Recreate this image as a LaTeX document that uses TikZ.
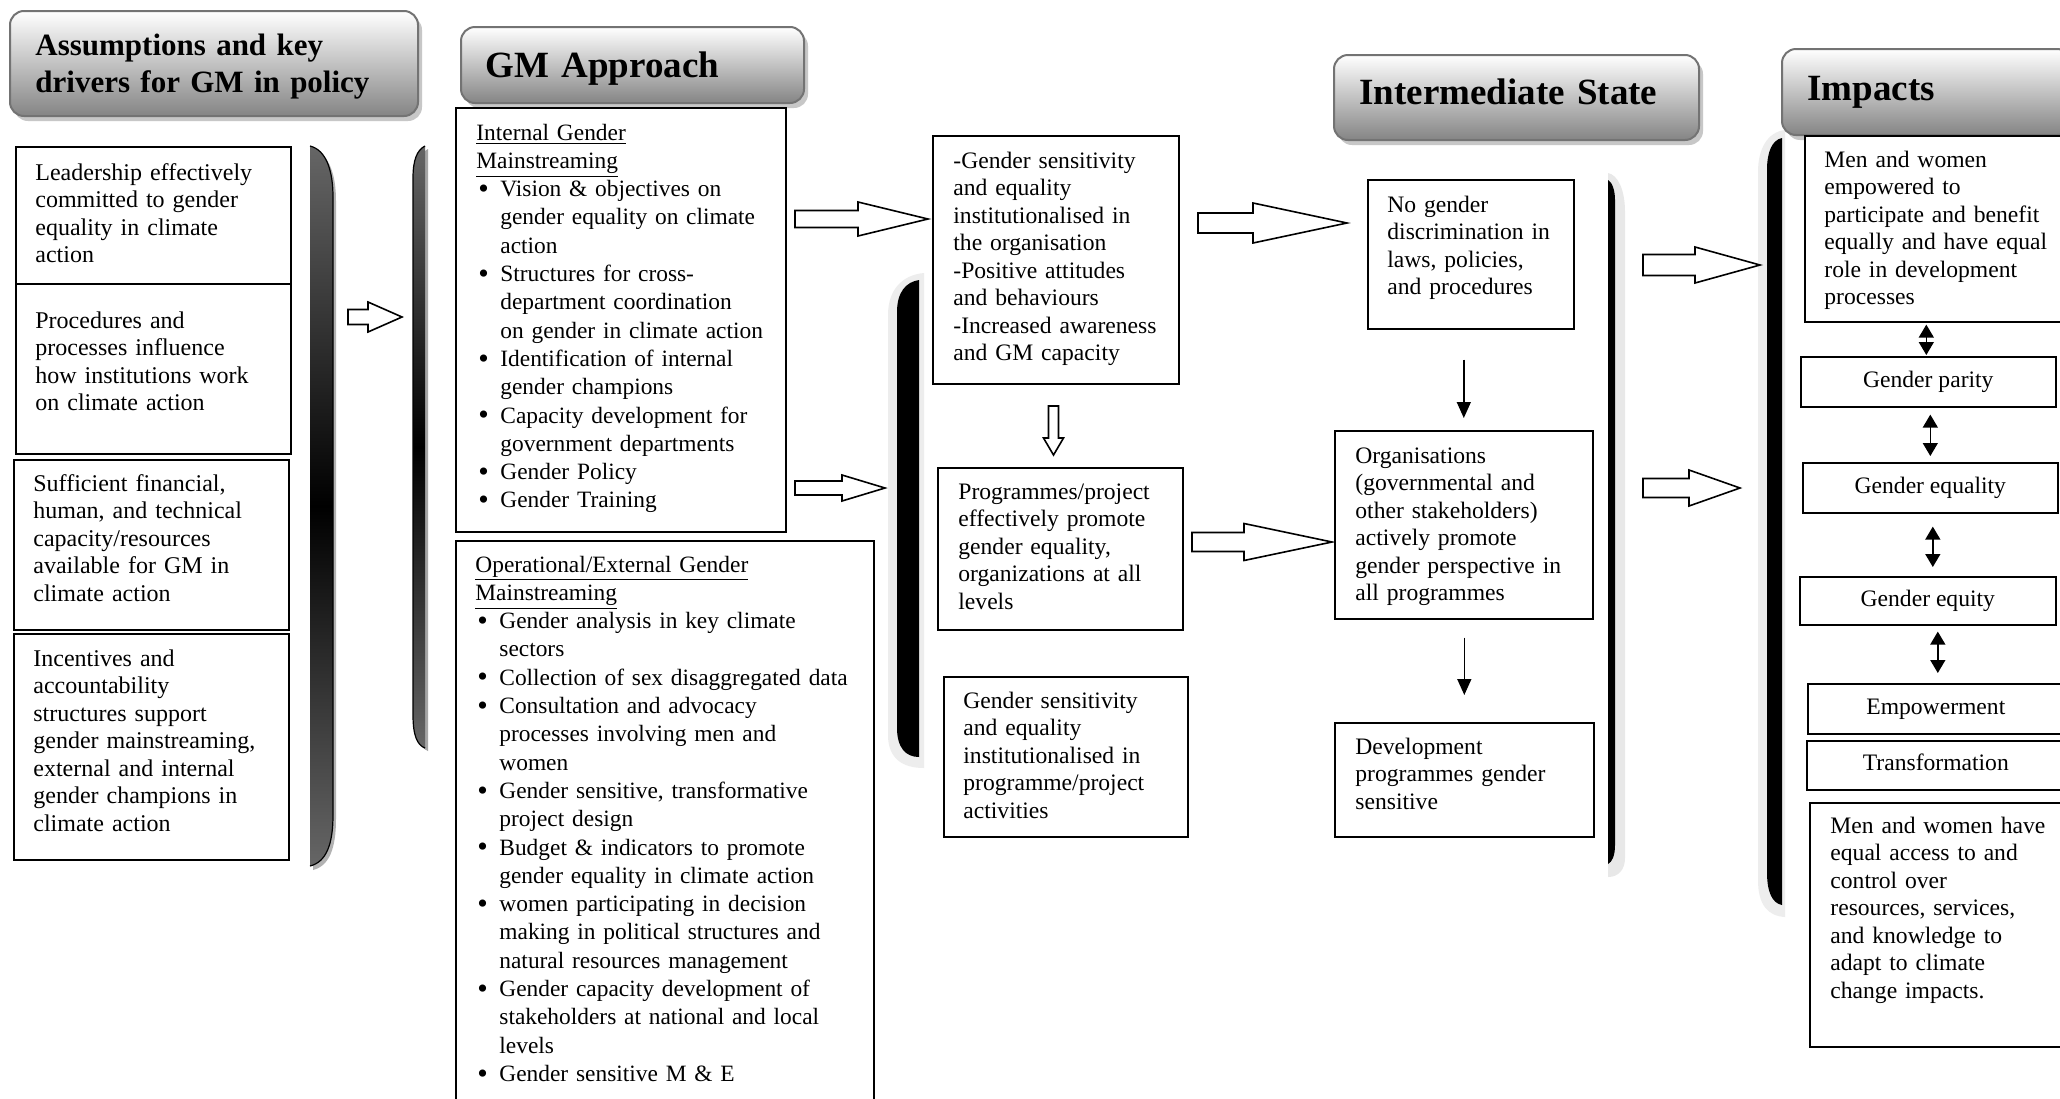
\documentclass[tikz,border=0pt]{standalone}
\usepackage{fontspec}
\setmainfont{Liberation Serif}
\usetikzlibrary{arrows.meta,shadows}
\newcommand\blt{\makebox[12pt][l]{\hspace{1pt}\raisebox{-0.8pt}{\fontsize{15}{15}\selectfont\textbullet}}}
\newcommand\hind{\hspace*{12pt}}
\newcommand\rblk[6]{\draw[blk] (#1,{#4-#5}) -- (#2,{#4-#5}) -- (#2,{#4-#6}) -- (#3,#4) -- (#2,{#4+#6}) -- (#2,{#4+#5}) -- (#1,{#4+#5}) -- cycle;}
\newcommand\bx[6]{\node[box,minimum width={(#4-#2)*0.5pt},minimum height={(#5-#3)*0.5pt}] (#1) at (#2,#3) {#6};}
\newcommand\hd[5]{\node[hdr,minimum width={(#4-#2)*0.5pt},minimum height={(#5-#3)*0.5pt}] (#1) at (#2,#3) {};}
\tikzset{
  x=0.5pt, y=-0.5pt,
  box/.style={draw=black, line width=0.8pt, fill=white, rectangle, inner sep=0pt, anchor=north west,
    font=\fontsize{11.8}{13.75}\selectfont, text height=8pt, text depth=2.6pt},
  hdr/.style={rectangle, rounded corners=7pt, draw=black!55, line width=1pt, top color=white,
    bottom color=black!48, anchor=north west, inner sep=0pt,
    drop shadow={shadow xshift=2pt, shadow yshift=-2.5pt, fill=black!22, opacity=1}},
  tx/.style={anchor=base west, inner sep=0pt, align=left, font=\fontsize{11.8}{13.75}\selectfont, text width=#1},
  lx/.style={anchor=base west, inner sep=0pt, align=left, font=\fontsize{12}{13.75}\selectfont, text width=#1},
  gm/.style={anchor=base west, inner sep=0pt, align=left, font=\fontsize{11.7}{14.15}\selectfont, text width=#1},
  ht/.style={anchor=base west, inner sep=0pt, align=left, font=\bfseries\fontsize{18.5}{21}\selectfont, text width=#1},
  blk/.style={draw=black, line width=0.8pt, fill=white, line join=miter},
  dbl/.style={{Triangle[width=7.5pt,length=6.5pt]}-{Triangle[width=7.5pt,length=6.5pt]}, line width=0.7pt},
  sarr/.style={-{Triangle[width=7pt,length=8pt]}, line width=0.7pt},
}
\begin{document}
\begin{tikzpicture}
\useasboundingbox (0,0) rectangle (2060,1098);
\fill[white] (0,0) rectangle (2060,1098);
\clip (0,0) rectangle (2060,1098);

% ---------- vertical bars ----------
% bar 1
\fill[black!30] (313,150) .. controls (329,154) and (336,174) .. (336,201) -- (336,819) .. controls (336,849) and (329,866) .. (313,870) -- cycle;
\shade[top color=black!60,bottom color=black!60,middle color=black] (310,146) .. controls (326,150) and (333,170) .. (333,197) -- (333,815) .. controls (333,845) and (326,862) .. (310,866) -- cycle;
\draw[line width=0.6pt] (310,146) .. controls (326,150) and (333,170) .. (333,197) -- (333,815) .. controls (333,845) and (326,862) .. (310,866);
% bar 2
\fill[black!35] (428,149) .. controls (420,153) and (416,163) .. (416,181) -- (416,718) .. controls (416,738) and (420,748) .. (428,751) -- cycle;
\shade[top color=black!60,bottom color=black!60,middle color=black] (425,146) .. controls (417,150) and (413,160) .. (413,178) -- (413,715) .. controls (413,735) and (417,745) .. (425,748) -- cycle;
\draw[line width=0.6pt] (425,146) .. controls (417,150) and (413,160) .. (413,178) -- (413,715) .. controls (413,735) and (417,745) .. (425,748);
% bar 3
\fill[black!7] (924,273) .. controls (902,275) and (888,290) .. (888,315) -- (888,735) .. controls (888,758) and (902,768) .. (924,768) -- cycle;
\fill[black] (919,280) .. controls (906,282) and (897,292) .. (897,312) -- (897,728) .. controls (897,748) and (906,757) .. (919,757) -- cycle;
% bar 4
\fill[black!9] (1608,173) .. controls (1618,175) and (1625,190) .. (1625,212) -- (1625,858) .. controls (1625,870) and (1618,877) .. (1608,877) -- cycle;
\fill[black] (1608,180) .. controls (1612,182) and (1615,190) .. (1615,200) -- (1615,845) .. controls (1615,856) and (1612,862) .. (1608,864) -- cycle;
% bar 5
\fill[black!7] (1785,130) .. controls (1768,132) and (1758,148) .. (1758,172) -- (1758,880) .. controls (1758,905) and (1768,916) .. (1785,917) -- cycle;
\fill[black] (1782,138) .. controls (1772,140) and (1767,152) .. (1767,170) -- (1767,872) .. controls (1767,892) and (1772,903) .. (1782,905) -- cycle;

% ---------- headers ----------
\hd{h1}{9}{10}{417}{115}
\hd{h2}{460}{26}{803}{102}
\hd{h3}{1333}{54}{1698}{139}
\hd{h4}{1781}{48}{2070}{134}
\node[anchor=base west, inner sep=0pt, align=left, font=\bfseries\fontsize{15.5}{18.5}\selectfont, text width=190pt] (h1t) at (35,55) {Assumptions and key\\drivers for GM in policy};
\node[ht=160pt] (h2t) at (485,77) {GM Approach};
\node[ht=170pt] (h3t) at (1359,104) {Intermediate State};
\node[ht=120pt] (h4t) at (1807,100) {Impacts};

% ---------- left column ----------
\bx{b1}{15}{146}{290}{283}{}
\bx{b2}{15}{283}{290}{453}{}
\bx{b3}{13}{459}{288}{629}{}
\bx{b4}{13}{633}{288}{859}{}
\node[lx=125pt] (t1) at (35,180) {Leadership effectively\\committed to gender\\equality in climate\\action};
\node[lx=125pt] (t2) at (35,328) {Procedures and\\processes influence\\how institutions work\\on climate action};
\node[lx=125pt] (t3) at (33,491) {Sufficient financial,\\human, and technical\\capacity/resources\\available for GM in\\climate action};
\node[lx=125pt] (t4) at (33,666) {Incentives and\\accountability\\structures support\\gender mainstreaming,\\external and internal\\gender champions in\\climate action};

% ---------- GM approach ----------
\bx{bint}{455}{107}{785}{531}{}
\bx{bop}{455}{540}{873}{1110}{}
\node[gm=152pt] (tint) at (476,140) {\underline{Internal Gender}\\
\underline{Mainstreaming}\\
\blt Vision \& objectives on\\
\hind gender equality on climate\\
\hind action\\
\blt Structures for cross-\\
\hind department coordination\\
\hind on gender in climate action\\
\blt Identification of internal\\
\hind gender champions\\
\blt Capacity development for\\
\hind government departments\\
\blt Gender Policy\\
\blt Gender Training};
\node[gm=196pt] (top) at (475,572) {\underline{Operational/External Gender}\\
\underline{Mainstreaming}\\
\blt Gender analysis in key climate\\
\hind sectors\\
\blt Collection of sex disaggregated data\\
\blt Consultation and advocacy\\
\hind processes involving men and\\
\hind women\\
\blt Gender sensitive, transformative\\
\hind project design\\
\blt Budget \& indicators to promote\\
\hind gender equality in climate action\\
\blt women participating in decision\\
\hind making in political structures and\\
\hind natural resources management\\
\blt Gender capacity development of\\
\hind stakeholders at national and local\\
\hind levels\\
\blt Gender sensitive M \& E};

% ---------- middle column ----------
\bx{bgs}{932}{135}{1178}{383}{}
\bx{bprog}{937}{467}{1182}{629}{}
\bx{bgs2}{943}{676}{1187}{836}{}
\node[tx=110pt] (tgs) at (953,168) {-Gender sensitivity\\and equality\\institutionalised in\\the organisation\\-Positive attitudes\\and behaviours\\-Increased awareness\\and GM capacity};
\node[tx=110pt] (tprog) at (958,499) {Programmes/project\\effectively promote\\gender equality,\\organizations at all\\levels};
\node[tx=110pt] (tgs2) at (963,708) {Gender sensitivity\\and equality\\institutionalised in\\programme/project\\activities};

% ---------- intermediate ----------
\bx{bng}{1367}{179}{1573}{328}{}
\bx{borg}{1334}{430}{1592}{618}{}
\bx{bdev}{1334}{722}{1593}{836}{}
\node[tx=91pt] (tng) at (1387,212) {No gender\\discrimination in\\laws, policies,\\and procedures};
\node[tx=115pt] (torg) at (1355,463) {Organisations\\(governmental and\\other stakeholders)\\actively promote\\gender perspective in\\all programmes};
\node[tx=115pt] (tdev) at (1355,754) {Development\\programmes gender\\sensitive};
\draw[sarr, shorten <=15pt, shorten >=6pt] (borg.north |- bng.south) -- (borg.north);
\draw[sarr, shorten <=9pt, shorten >=13.5pt] (bdev.north |- borg.south) -- (bdev.north);

% ---------- impacts ----------
\bx{bemp}{1804}{135}{2070}{321}{}
\bx{bpar}{1800}{356}{2055}{406}{Gender parity}
\bx{beql}{1802}{462}{2057}{512}{Gender equality}
\bx{beqt}{1799}{576}{2055}{624}{Gender equity}
\bx{bpow}{1807}{683}{2063}{733}{Empowerment}
\bx{btra}{1806}{740}{2064}{789}{Transformation}
\bx{blast}{1809}{802}{2070}{1046}{}
\node[tx=116pt] (temp) at (1824,167) {Men and women\\empowered to\\participate and benefit\\equally and have equal\\role in development\\processes};
\node[tx=114pt] (tlast) at (1830,833) {Men and women have\\equal access to and\\control over\\resources, services,\\and knowledge to\\adapt to climate\\change impacts.};
\draw[dbl, shorten <=1pt, shorten >=0.5pt] ([xshift=-1pt]bpar.north |- bemp.south) -- ([xshift=-1pt]bpar.north);
\draw[dbl, shorten <=3.5pt, shorten >=3pt] (beql.north |- bpar.south) -- (beql.north);
\draw[dbl, shorten <=6.5pt, shorten >=4.5pt] ([xshift=2.5pt]beqt.north |- beql.south) -- ([xshift=2.5pt]beqt.north);
\draw[dbl, shorten <=3pt, shorten >=5pt] ([xshift=1pt]bpow.north |- beqt.south) -- ([xshift=1pt]bpow.north);

% ---------- block arrows ----------
\rblk{348}{368}{402}{317}{7.5}{15}
\rblk{795}{858}{928}{219}{8.5}{17}
\rblk{795}{842}{885}{488}{7}{13}
\rblk{1198}{1253}{1347}{223}{10}{20}
\rblk{1192}{1244}{1332}{542}{9.5}{18.5}
\rblk{1643}{1695}{1760}{265}{10.5}{18}
\rblk{1643}{1689}{1740}{488}{9.5}{18}
\draw[blk] (1048.5,406) -- (1058.5,406) -- (1058.5,438) -- (1063.5,438) -- (1053.5,455) -- (1043.5,438) -- (1048.5,438) -- cycle;
\end{tikzpicture}
\end{document}
